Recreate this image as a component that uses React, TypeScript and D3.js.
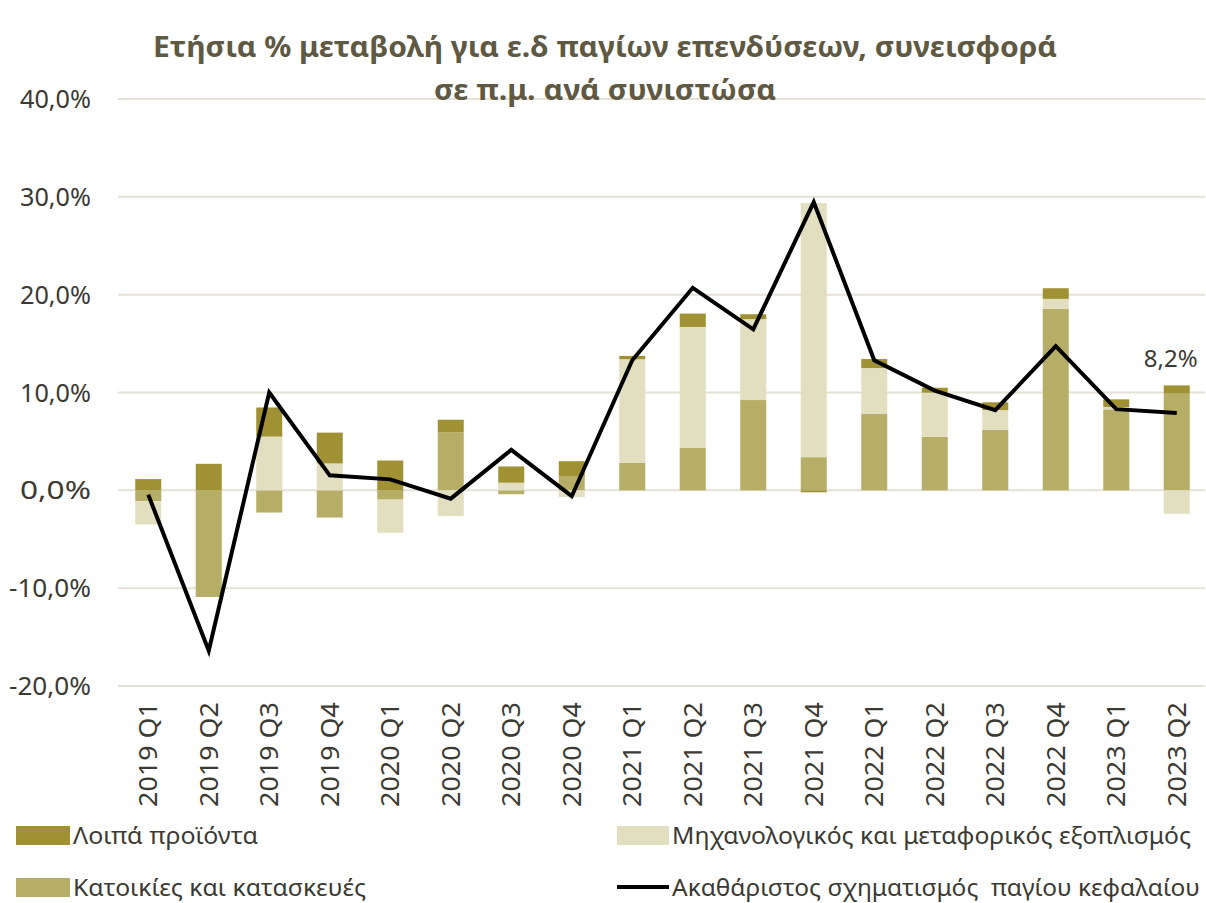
import React from 'react';
import * as d3 from 'd3';

const quarters = [
  '2019 Q1', '2019 Q2', '2019 Q3', '2019 Q4',
  '2020 Q1', '2020 Q2', '2020 Q3', '2020 Q4',
  '2021 Q1', '2021 Q2', '2021 Q3', '2021 Q4',
  '2022 Q1', '2022 Q2', '2022 Q3', '2022 Q4',
  '2023 Q1', '2023 Q2',
];

// contributions in percentage points
const housing = [-1.12, -10.9, -2.27, -2.78, -0.95, 5.93, -0.4, 1.46, 2.8, 4.37, 9.23, 3.39, 7.8, 5.46, 6.2, 18.55, 8.28, 9.88];
const machinery = [-2.37, 0, 5.49, 2.75, -3.39, -2.64, 0.78, -0.68, 10.6, 12.33, 8.27, 25.97, 4.7, 4.52, 2.0, 1.02, 0.24, -2.4];
const other = [1.15, 2.71, 2.98, 3.15, 3.05, 1.29, 1.66, 1.52, 0.34, 1.37, 0.5, -0.2, 0.92, 0.51, 0.8, 1.09, 0.78, 0.85];
const gfcf = [-0.44, -16.4, 10.0, 1.53, 1.12, -0.85, 4.14, -0.6, 13.3, 20.7, 16.45, 29.47, 13.3, 10.2, 8.2, 14.74, 8.3, 7.9];

const yTicks = [-20, -10, 0, 10, 20, 30, 40];
const lastLabel = '8,2%';

const titleLines = [
  'Ετήσια % μεταβολή για ε.δ παγίων επενδύσεων, συνεισφορά',
  'σε π.μ. ανά συνιστώσα',
];

const seriesNames = {
  other: 'Λοιπά προϊόντα',
  machinery: 'Μηχανολογικός και μεταφορικός εξοπλισμός',
  housing: 'Κατοικίες και κατασκευές',
  gfcf: 'Ακαθάριστος σχηματισμός  παγίου κεφαλαίου',
};

const colors = {
  other: '#a09234',
  machinery: '#e2dfc0',
  housing: '#b6ae66',
  gfcf: '#000000',
};

const W = 1206;
const H = 903;
const font = "'Noto Sans', sans-serif";
const textColor = '#3b3a33';

export default function App() {
  const x = d3.scaleBand<string>()
    .domain(quarters)
    .range([118, 1207])
    .paddingInner(0.57)
    .paddingOuter(0.285);

  const y = d3.scaleLinear()
    .domain([-20, 40])
    .range([686, 99]);

  const keys = ['housing', 'machinery', 'other'];
  const rows = quarters.map((q, i) => ({
    q,
    housing: housing[i],
    machinery: machinery[i],
    other: other[i],
  }));
  const stacked = d3.stack<any>()
    .keys(keys)
    .offset(d3.stackOffsetDiverging)(rows);

  const cx = (q: string) => (x(q) as number) + x.bandwidth() / 2;

  const line = d3.line<number>()
    .x((_, i) => cx(quarters[i]))
    .y(d => y(d));

  const fmt = (v: number) => d3.format('.1f')(v).replace('.', ',').replace('−', '-') + '%';

  const lastQ = quarters[quarters.length - 1];
  const lastTop = y(housing[housing.length - 1] + other[other.length - 1]);

  return (
    <svg width={W} height={H} style={{ position: 'absolute', left: 0, top: 0, background: '#fff' }}
      fontFamily={font}>
      {/* grid + y labels */}
      {yTicks.map(t => (
        <g key={t}>
          <line x1={118} x2={1205} y1={y(t)} y2={y(t)} stroke="#e5e1d7" strokeWidth={2} />
          <text x={91} y={y(t) + 9} textAnchor="end" fontSize={25} fill={textColor}
            textLength={t < 0 ? 82 : 71} lengthAdjust="spacingAndGlyphs">{fmt(t)}</text>
        </g>
      ))}

      {/* title, drawn over the top gridline */}
      {titleLines.map((t, i) => (
        <text key={i} x={605} y={57 + i * 43} textAnchor="middle" fontSize={28} fontWeight="bold"
          fill="#5f5943" textLength={i === 0 ? 904 : 342} lengthAdjust="spacingAndGlyphs">{t}</text>
      ))}

      {/* stacked bars */}
      {stacked.map(s => (
        <g key={s.key} fill={(colors as any)[s.key]}>
          {s.map((d, i) => (
            <rect key={i} x={x(quarters[i])} width={x.bandwidth()}
              y={y(Math.max(d[0], d[1]))} height={Math.abs(y(d[0]) - y(d[1]))} />
          ))}
        </g>
      ))}

      {/* total line */}
      <path d={line(gfcf) || ''} fill="none" stroke={colors.gfcf} strokeWidth={4} strokeLinejoin="miter" />
      <text x={cx(lastQ) - 6} y={lastTop - 18} textAnchor="middle" fontSize={24} fill={textColor}>{lastLabel}</text>

      {/* x labels */}
      {quarters.map(q => (
        <text key={q} transform={`translate(${cx(q) + 9},702) rotate(-90)`} textAnchor="end"
          fontSize={25} fill={textColor} textLength={105} lengthAdjust="spacingAndGlyphs">{q}</text>
      ))}

      {/* legend */}
      <rect x={16} y={826} width={54} height={19} fill={colors.other} />
      <text x={73} y={844} fontSize={24} fill={textColor} textLength={185} lengthAdjust="spacingAndGlyphs">{seriesNames.other}</text>
      <rect x={617} y={826} width={52} height={19} fill={colors.machinery} />
      <text x={672} y={844} fontSize={24} fill={textColor} textLength={519} lengthAdjust="spacingAndGlyphs">{seriesNames.machinery}</text>
      <rect x={16} y={878} width={54} height={19} fill={colors.housing} />
      <text x={73} y={896} fontSize={24} fill={textColor} textLength={293} lengthAdjust="spacingAndGlyphs">{seriesNames.housing}</text>
      <line x1={617} x2={669} y1={887} y2={887} stroke={colors.gfcf} strokeWidth={4} />
      <text x={672} y={896} fontSize={24} fill={textColor} textLength={528} lengthAdjust="spacingAndGlyphs"
        style={{ whiteSpace: 'pre' }}>{seriesNames.gfcf}</text>
    </svg>
  );
}
